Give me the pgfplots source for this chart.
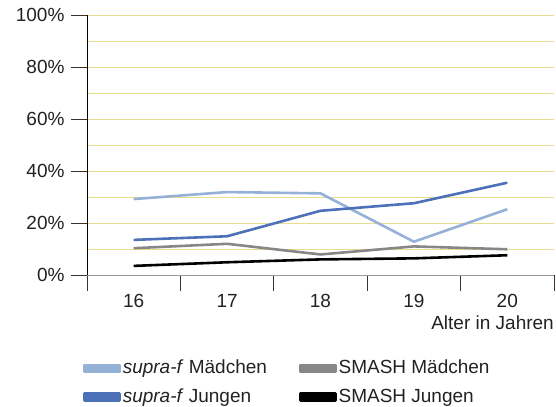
\documentclass[border=0pt]{standalone}
\usepackage{pgfplots}
\pgfplotsset{compat=1.18}
\usepackage{fontspec}
\setmainfont{Liberation Sans}
\definecolor{gridy}{HTML}{E6DE8E}
\definecolor{lblue}{HTML}{95B1D8}
\definecolor{mblue}{HTML}{4C71B9}
\definecolor{sgray}{HTML}{878787}
\definecolor{txt}{HTML}{222222}
\begin{document}
\fontsize{19bp}{22bp}\selectfont
\begin{tikzpicture}
\begin{axis}[
  width=467bp, height=260bp, scale only axis,
  xmin=0.5, xmax=5.5, ymin=0, ymax=100,
  axis x line*=bottom, axis y line*=left,
  axis line style={-, black, line width=0.8bp},
  x axis line style={color=gray!80},
  xtick={0.5,1.5,...,5.5},
  x tick label as interval,
  xticklabels={16,17,18,19,20},
  ytick={0,20,...,100},
  minor ytick={10,30,...,90},
  yticklabel={\pgfmathprintnumber{\tick}\%},
  /pgf/number format/assume math mode=true,
  tick align=outside,
  major tick length=16bp,
  minor tick length=0pt,
  tick style={color=black!80!olive, line width=0.8bp},
  ymajorgrids, yminorgrids,
  grid style={color=gridy, line width=0.8bp},
  minor grid style={color=gridy, line width=0.8bp},
  ticklabel style={font=\fontsize{19bp}{22bp}\selectfont, text=txt},
  yticklabel style={xshift=0bp},
  xticklabel style={yshift=3bp},
  xlabel={Alter in Jahren},
  xlabel style={at={(rel axis cs:1,0)}, anchor=north east, yshift=-41bp, inner sep=0pt, text=txt, font=\fontsize{19bp}{22bp}\selectfont},
  legend columns=2,
  legend style={at={(rel axis cs:0,0)}, anchor=north west, xshift=-7bp, yshift=-81bp, draw=none, fill=none,
    font=\fontsize{19bp}{22bp}\selectfont, text=txt, row sep=8bp,
    /tikz/every even column/.append style={column sep=30bp}},
  legend cell align=left,
  legend image code/.code={\fill (0bp,-3.5bp) rectangle (35bp,3.5bp);},
  every axis plot/.append style={line width=2.6bp, line join=round},
  clip=false,
]
\addplot[lblue] coordinates {(1,29.2) (2,31.9) (3,31.4) (4,12.8) (5,25.3)};
\addlegendentry{\textit{supra-f} Mädchen}
\addplot[sgray] coordinates {(1,10.3) (2,12.0) (3,7.9) (4,11.0) (5,9.9)};
\addlegendentry{SMASH Mädchen}
\addplot[mblue] coordinates {(1,13.5) (2,14.9) (3,24.7) (4,27.6) (5,35.5)};
\addlegendentry{\textit{supra-f} Jungen}
\addplot[black] coordinates {(1,3.5) (2,4.9) (3,6.0) (4,6.4) (5,7.6)};
\addlegendentry{SMASH Jungen}
\end{axis}
\pgfresetboundingbox
\path[use as bounding box] (-87bp,-132bp) rectangle (469bp,275bp);
\end{tikzpicture}
\end{document}
